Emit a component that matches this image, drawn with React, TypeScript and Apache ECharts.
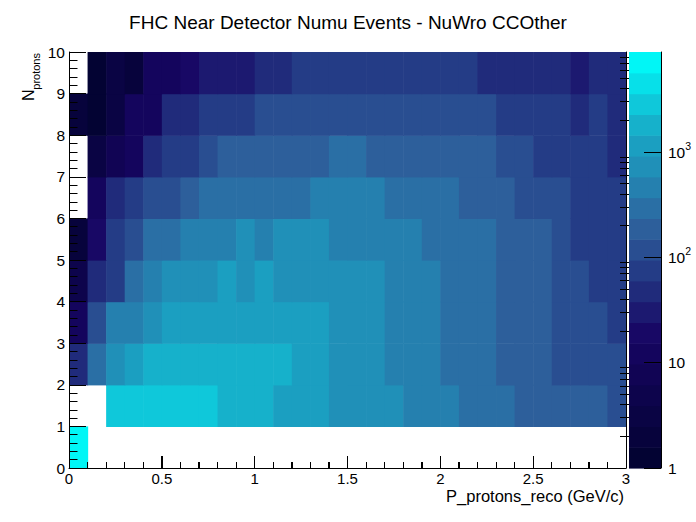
import { useEffect, useRef } from 'react';
import * as echarts from 'echarts';

const FONT = "'Liberation Sans', Arial, Helvetica, sans-serif";

// P_protons_reco bins: 30 bins of 0.1 GeV/c from 0 to 3
const xBinWidth = 0.1;
const xMin = 0;
const xMax = 3;
// N_protons bins: 0..10, width 1
const yTicks = [0, 1, 2, 3, 4, 5, 6, 7, 8, 9, 10];

// bin contents, one array per N_protons row (0 = empty)
const nProtons0 = [8000, 0, 0, 0, 0, 0, 0, 0, 0, 0, 0, 0, 0, 0, 0, 0, 0, 0, 0, 0, 0, 0, 0, 0, 0, 0, 0, 0, 0, 0];
const nProtons1 = [0, 0, 2860, 2860, 2860, 2860, 2860, 2860, 1810, 1810, 1810, 1150, 1150, 1150, 730, 730, 730, 730, 463, 463, 463, 294, 294, 294, 187, 187, 187, 187, 187, 118];
const nProtons2 = [48, 294, 730, 1150, 1810, 1810, 1810, 1810, 1810, 1810, 1810, 1810, 1150, 1150, 730, 730, 730, 463, 463, 463, 294, 294, 294, 187, 187, 187, 118, 118, 118, 118];
const nProtons3 = [12, 118, 463, 463, 730, 1150, 1150, 1150, 1150, 1150, 1150, 1150, 1150, 1150, 730, 730, 730, 463, 463, 463, 294, 294, 294, 187, 187, 187, 118, 118, 118, 75];
const nProtons4 = [5, 48, 75, 294, 463, 730, 730, 730, 1150, 730, 1150, 730, 730, 730, 730, 730, 730, 463, 463, 463, 294, 294, 294, 187, 187, 187, 118, 118, 75, 75];
const nProtons5 = [2, 19, 75, 118, 294, 294, 463, 463, 463, 730, 463, 730, 730, 730, 463, 463, 463, 463, 463, 294, 294, 294, 294, 187, 187, 187, 118, 75, 75, 75];
const nProtons6 = [0, 12, 48, 75, 118, 118, 187, 294, 294, 294, 294, 294, 294, 463, 463, 463, 463, 294, 294, 294, 294, 187, 187, 187, 118, 118, 118, 75, 75, 75];
const nProtons7 = [0, 3, 8, 12, 48, 75, 75, 118, 187, 187, 187, 187, 187, 187, 294, 294, 187, 187, 187, 187, 187, 187, 187, 118, 118, 75, 75, 75, 75, 48];
const nProtons8 = [2, 1, 3, 12, 12, 48, 48, 75, 75, 75, 118, 118, 118, 118, 118, 118, 118, 118, 118, 118, 118, 118, 118, 75, 75, 75, 75, 48, 75, 48];
const nProtons9 = [0, 1, 3, 2, 12, 12, 19, 30, 30, 30, 48, 48, 75, 75, 75, 75, 75, 75, 75, 75, 75, 75, 48, 48, 48, 48, 48, 30, 48, 48];
const rows = [nProtons0, nProtons1, nProtons2, nProtons3, nProtons4, nProtons5, nProtons6, nProtons7, nProtons8, nProtons9];

// z axis (log): 1 .. zMax, 20 contour levels
const zMax = 8900;
const nLevels = 20;
const zLabelValues = [0, 1, 2, 3]; // log10 of 1, 10, 10^2, 10^3

// kDeepSea palette stops
const seaStops = [0, 0.34, 0.61, 0.84, 1];
const seaRed = [0, 0.09, 0.18, 0.09, 0];
const seaGreen = [0.01, 0.02, 0.39, 0.68, 0.97];
const seaBlue = [0.17, 0.39, 0.62, 0.79, 0.97];

const logMax = Math.log10(zMax);

const levelColor = (i: number) => {
    const f = Math.floor((i + 0.99) * 255 / nLevels) / 255;
    let s = 1;
    while (s < seaStops.length - 1 && f > seaStops[s]) s++;
    const t = (f - seaStops[s - 1]) / (seaStops[s] - seaStops[s - 1]);
    const mix = (a: number[]) => Math.round((a[s - 1] + t * (a[s] - a[s - 1])) * 255);
    return `rgb(${mix(seaRed)}, ${mix(seaGreen)}, ${mix(seaBlue)})`;
};

const colorFor = (v: number) => {
    let lvl = Math.floor(Math.log10(v) / logMax * nLevels);
    if (lvl < 0) lvl = 0;
    if (lvl > nLevels - 1) lvl = nLevels - 1;
    return levelColor(lvl);
};

const crisp = (p: number) => Math.round(p - 0.5) + 0.5;

const App = () => {
    const chartRef = useRef<HTMLDivElement | null>(null);

    useEffect(() => {
        document.body.style.margin = '0';
        if (!chartRef.current) return;
        const chart = echarts.init(chartRef.current, null, { renderer: 'svg' });

        const cells: number[][] = [];
        rows.forEach((row, r) => {
            row.forEach((v, c) => {
                if (v > 0) cells.push([xMin + c * xBinWidth, r, v]);
            });
        });

        // tick marks along P axis, one per bin edge (every fifth one is major)
        const xTickMarks: number[][] = [];
        for (let c = 0; c <= rows[0].length; c++) xTickMarks.push([xMin + c * xBinWidth, c % 5 === 0 ? 1 : 0]);

        const levels: number[][] = [];
        for (let i = 0; i < nLevels; i++) levels.push([i]);

        const minorTicks: number[] = [];
        for (let d = 0; d < 4; d++) {
            for (let k = 2; k <= 9; k++) {
                const lv = Math.log10(k * Math.pow(10, d));
                if (lv < logMax) minorTicks.push(lv);
            }
        }

        const tickLabel = { color: '#000', fontFamily: FONT, fontSize: 15.5 };

        const option = {
            animation: false,
            backgroundColor: '#fff',
            title: {
                text: 'FHC Near Detector Numu Events - NuWro CCOther',
                left: 'center',
                top: 8,
                textStyle: { fontFamily: FONT, fontSize: 19, fontWeight: 'normal', color: '#000' }
            },
            grid: [
                { left: 69, top: 52, width: 557, height: 416 },
                { left: 629, top: 52, width: 32, height: 416 }
            ],
            xAxis: [
                {
                    type: 'value', gridIndex: 0, min: xMin, max: xMax, interval: 0.5, z: 10,
                    axisLine: { show: true, onZero: false, lineStyle: { color: '#000', width: 1 } },
                    axisTick: { show: true, inside: true, length: 12, lineStyle: { color: '#000', width: 1 } },
                    minorTick: { show: true, splitNumber: 5, length: 6, lineStyle: { color: '#000', width: 1 } },
                    axisLabel: { ...tickLabel, fontSize: 15, margin: 5, lineHeight: 11 },
                    splitLine: { show: false }
                },
                { type: 'value', gridIndex: 1, min: 0, max: 1, show: false }
            ],
            yAxis: [
                {
                    type: 'value', gridIndex: 0, min: yTicks[0], max: yTicks[yTicks.length - 1], interval: 1, z: 10,
                    axisLine: { show: true, onZero: false, lineStyle: { color: '#000', width: 1 } },
                    axisTick: { show: true, inside: true, length: 17, lineStyle: { color: '#000', width: 1 } },
                    minorTick: { show: true, splitNumber: 5, length: 8.5, lineStyle: { color: '#000', width: 1 } },
                    axisLabel: { ...tickLabel, margin: 4 },
                    splitLine: { show: false }
                },
                {
                    type: 'value', gridIndex: 0, position: 'right', min: yTicks[0], max: yTicks[yTicks.length - 1], z: 10,
                    axisLine: { show: true, onZero: false, lineStyle: { color: '#000', width: 1 } },
                    axisTick: { show: false }, axisLabel: { show: false }, splitLine: { show: false }
                },
                {
                    type: 'value', gridIndex: 1, position: 'right', min: 0, max: logMax, z: 10,
                    axisLine: { show: true, onZero: false, lineStyle: { color: '#000', width: 1 } },
                    axisTick: { show: true, inside: true, length: 17, customValues: zLabelValues, lineStyle: { color: '#000' } },
                    axisLabel: {
                        margin: 7,
                        customValues: zLabelValues,
                        formatter: (v: number) => {
                            const e = Math.round(v);
                            if (e === 0) return '{b|1}';
                            if (e === 1) return '{b|10}';
                            return `{b|10}{s|${e}}`;
                        },
                        rich: {
                            b: { ...tickLabel, lineHeight: 24, verticalAlign: 'middle' },
                            s: { color: '#000', fontFamily: FONT, fontSize: 10.5, lineHeight: 11, verticalAlign: 'top' }
                        }
                    },
                    splitLine: { show: false }
                },
                {
                    type: 'value', gridIndex: 1, position: 'right', min: 0, max: logMax, z: 10,
                    axisLine: { show: false },
                    axisTick: { show: true, inside: true, length: 9, customValues: minorTicks, lineStyle: { color: '#000' } },
                    axisLabel: { show: false },
                    splitLine: { show: false }
                }
            ],
            graphic: [
                {
                    type: 'text', x: 624, y: 496,
                    style: { text: 'P_protons_reco (GeV/c)', fontFamily: FONT, fontSize: 16.5, lineHeight: 11, fill: '#000', align: 'right', verticalAlign: 'middle' }
                },
                {
                    type: 'group', x: 0, y: 53, rotation: Math.PI / 2,
                    children: [
                        { type: 'text', x: 0, y: 36, style: { text: 'protons', fontFamily: FONT, fontSize: 11, fill: '#000', align: 'right', verticalAlign: 'middle' } },
                        { type: 'text', x: -36.5, y: 28, style: { text: 'N', fontFamily: FONT, fontSize: 16, fill: '#000', align: 'right', verticalAlign: 'middle' } }
                    ]
                }
            ],
            series: [
                {
                    type: 'custom', xAxisIndex: 0, yAxisIndex: 0, z: 1,
                    data: cells,
                    encode: { x: 0, y: 1 },
                    renderItem: (_params: any, api: any) => {
                        const x = api.value(0);
                        const y = api.value(1);
                        const v = api.value(2);
                        const p0 = api.coord([x, y + 1]);
                        const p1 = api.coord([x + xBinWidth, y]);
                        return {
                            type: 'rect',
                            shape: { x: p0[0], y: p0[1], width: p1[0] - p0[0] + 0.6, height: p1[1] - p0[1] + 0.6 },
                            style: { fill: colorFor(v) }
                        };
                    }
                },
                {
                    type: 'custom', xAxisIndex: 0, yAxisIndex: 0, z: 20, silent: true,
                    data: xTickMarks,
                    encode: { x: 0 },
                    renderItem: (_params: any, api: any) => {
                        const p = api.coord([api.value(0), yTicks[0]]);
                        const len = api.value(1) ? 12 : 6;
                        const x = crisp(p[0]);
                        return {
                            type: 'line',
                            shape: { x1: x, y1: p[1], x2: x, y2: p[1] - len },
                            style: { stroke: '#000', lineWidth: 1 }
                        };
                    }
                },
                {
                    type: 'custom', xAxisIndex: 1, yAxisIndex: 2, z: 1,
                    data: levels,
                    encode: { y: 0 },
                    renderItem: (_params: any, api: any) => {
                        const i = api.value(0);
                        const p0 = api.coord([0, (i + 1) * logMax / nLevels]);
                        const p1 = api.coord([1, i * logMax / nLevels]);
                        return {
                            type: 'rect',
                            shape: { x: p0[0], y: p0[1], width: p1[0] - p0[0], height: p1[1] - p0[1] + 0.6 },
                            style: { fill: levelColor(i) }
                        };
                    }
                }
            ]
        };

        chart.setOption(option as any);
        return () => chart.dispose();
    }, []);

    return <div ref={chartRef} style={{ width: 696, height: 522 }} />;
};

export default App;
